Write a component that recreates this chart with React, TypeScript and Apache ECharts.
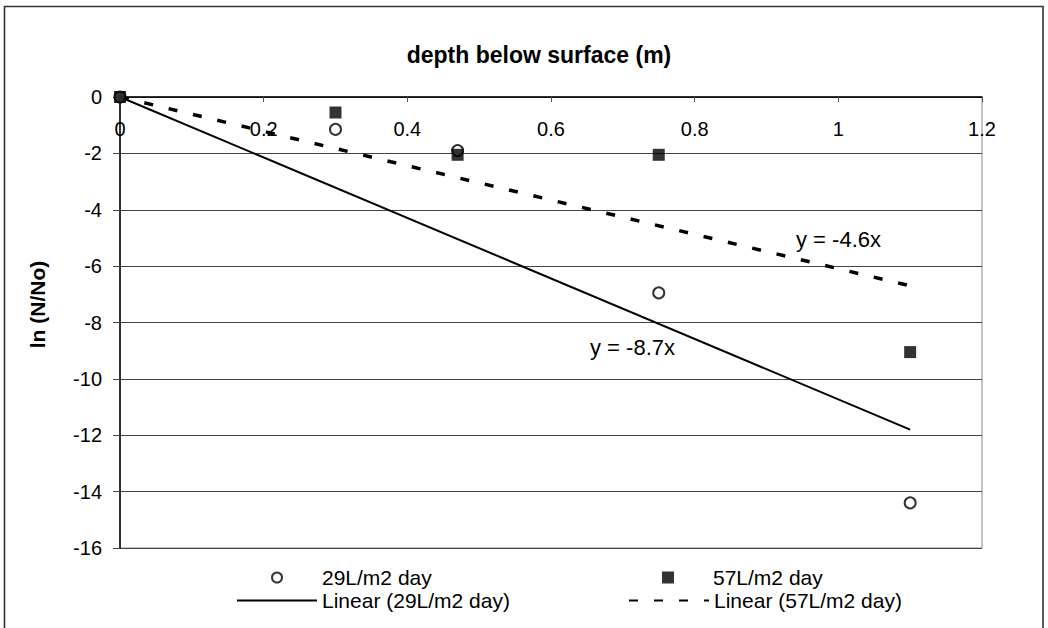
import React, { useEffect, useRef } from "react";
import * as echarts from "echarts";

// ---- data ----
const depth = [0, 0.3, 0.47, 0.75, 1.1];
const ln29 = [0, -1.15, -1.9, -6.95, -14.4];
const ln57 = [0, -0.55, -2.05, -2.05, -9.05];
const trendDepth = [0, 1.1];
const trend29 = [0, -11.8];
const trend57 = [0, -6.7];
const seriesNames = ["29L/m2 day", "57L/m2 day", "Linear (29L/m2 day)", "Linear (57L/m2 day)"];
const equationLabels = ["y = -8.7x", "y = -4.6x"];
const xAxisTitle = "depth below surface (m)";
const yAxisTitle = "ln (N/No)";
const xMin = 0, xMax = 1.2, xStep = 0.2;
const yMin = -16, yMax = 0, yStep = 2;

const FONT = "'Liberation Sans', Arial, Helvetica, sans-serif";
const DASH = [9, 16];

export default function App() {
  const ref = useRef<HTMLDivElement>(null);
  useEffect(() => {
    if (!ref.current) return;
    const chart = echarts.init(ref.current, undefined, { renderer: "svg" });
    const pairs = (xs: number[], ys: number[]) => xs.map((x, i) => [x, ys[i]]);
    const legendBase = {
      orient: "horizontal",
      padding: 0,
      itemWidth: 80,
      itemHeight: 10,
      itemGap: 0,
      selectedMode: false,
      textStyle: { fontFamily: FONT, fontSize: 21, color: "#000" },
    };
    chart.setOption({
      animation: false,
      backgroundColor: "#fff",
      textStyle: { fontFamily: FONT },
      grid: {
        left: 120,
        top: 97,
        right: 66,
        bottom: 80,
        show: true,
        borderColor: "#888",
        borderWidth: 1,
        backgroundColor: "transparent",
      },
      xAxis: {
        type: "value",
        position: "top",
        min: xMin,
        max: xMax,
        interval: xStep,
        name: xAxisTitle,
        nameLocation: "middle",
        nameGap: 31,
        nameTextStyle: {
          fontFamily: FONT,
          fontSize: 23,
          fontWeight: "bold",
          color: "#000",
          padding: [0, 24, 0, 0],
        },
        axisLine: { show: true, onZero: false, lineStyle: { color: "#000", width: 1.5 } },
        axisTick: { show: true, inside: true, length: 5, lineStyle: { color: "#555" } },
        axisLabel: { inside: true, margin: 22, fontSize: 20, color: "#000", fontFamily: FONT },
        splitLine: { show: false },
      },
      yAxis: {
        type: "value",
        min: yMin,
        max: yMax,
        interval: yStep,
        name: yAxisTitle,
        nameLocation: "middle",
        nameRotate: 90,
        nameGap: 72,
        nameTextStyle: {
          fontFamily: FONT,
          fontSize: 21,
          fontWeight: "bold",
          color: "#000",
          padding: [0, 0, 0, 36],
        },
        axisLine: { show: true, onZero: false, lineStyle: { color: "#000", width: 1.5 } },
        axisTick: { show: true, inside: false, length: 7, lineStyle: { color: "#444" } },
        axisLabel: { margin: 18, fontSize: 20, color: "#000", fontFamily: FONT },
        splitLine: { show: true, lineStyle: { color: "#444", width: 1 } },
      },
      legend: [
        {
          ...legendBase,
          data: [seriesNames[0]],
          left: 271,
          top: 567,
          itemWidth: 10,
          itemHeight: 10,
          textStyle: { ...legendBase.textStyle, padding: [0, 0, 0, 35] },
        },
        {
          ...legendBase,
          data: [seriesNames[1]],
          left: 662,
          top: 567,
          itemWidth: 12,
          itemHeight: 12,
          textStyle: { ...legendBase.textStyle, padding: [0, 0, 0, 34] },
        },
        { ...legendBase, data: [seriesNames[2]], left: 236, top: 590, itemStyle: { opacity: 0 } },
        { ...legendBase, data: [seriesNames[3]], left: 628, top: 590, itemStyle: { opacity: 0 } },
      ],
      graphic: [
        {
          type: "rect",
          silent: true,
          shape: { x: 4.5, y: 6.5, width: 1038.5, height: 640 },
          style: { fill: "none", stroke: "#333", lineWidth: 1.6 },
          z: 100,
        },
        {
          type: "text",
          silent: true,
          x: 590,
          y: 347,
          style: {
            text: equationLabels[0],
            fontFamily: FONT,
            fontSize: 22,
            fill: "#000",
            verticalAlign: "middle",
            align: "left",
          },
          z: 100,
        },
        {
          type: "text",
          silent: true,
          x: 796,
          y: 239,
          style: {
            text: equationLabels[1],
            fontFamily: FONT,
            fontSize: 22,
            fill: "#000",
            verticalAlign: "middle",
            align: "left",
          },
          z: 100,
        },
      ],
      series: [
        {
          name: seriesNames[0],
          type: "scatter",
          data: pairs(depth, ln29),
          symbol: "circle",
          symbolSize: 11,
          itemStyle: { color: "#fff", borderColor: "#000", borderWidth: 2 },
          z: 3,
        },
        {
          name: seriesNames[1],
          type: "scatter",
          data: pairs(depth, ln57),
          symbol: "rect",
          symbolSize: 12,
          itemStyle: { color: "#000" },
          z: 4,
        },
        {
          name: seriesNames[2],
          type: "line",
          data: pairs(trendDepth, trend29),
          symbol: "none",
          showSymbol: false,
          lineStyle: { color: "#000", width: 2 },
          itemStyle: { color: "#000" },
          z: 1,
        },
        {
          name: seriesNames[3],
          type: "line",
          data: pairs(trendDepth, trend57),
          symbol: "none",
          showSymbol: false,
          lineStyle: { color: "#000", width: 3.5, type: DASH },
          itemStyle: { color: "#000" },
          z: 1,
        },
      ],
    });
    return () => chart.dispose();
  }, []);
  return (
    <div
      ref={ref}
      style={{ position: "absolute", left: 0, top: 0, width: 1048, height: 628, background: "#fff" }}
    />
  );
}
